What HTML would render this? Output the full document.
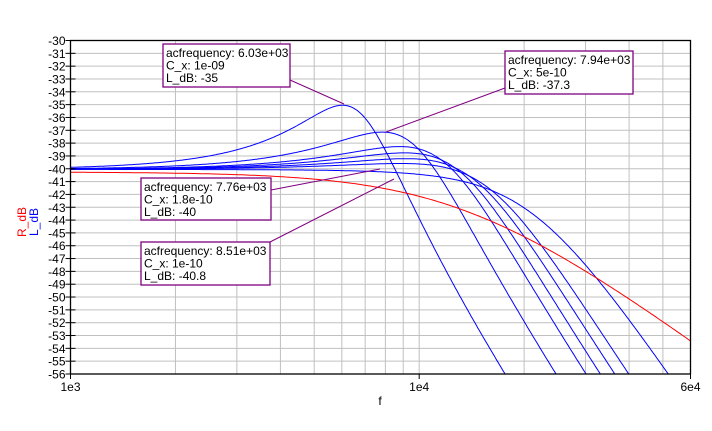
<!DOCTYPE html>
<html><head><meta charset="utf-8"><style>
html,body{margin:0;background:#fff;overflow:hidden;width:712px;height:431px}
svg{display:block;font-family:"Liberation Sans",sans-serif}
</style></head><body>
<svg id="s" width="712" height="431" xmlns="http://www.w3.org/2000/svg"></svg>
<script>
const L=70.5,R=690.5,T=40.5,B=374,dpx=(B-T)/26,dec=(R-L)/Math.log10(60);
const X=f=>L+dec*Math.log10(f/1000), Y=d=>T+(-30-d)*dpx;
let s='';
for(let k=1;k<26;k++){const y=T+k*dpx;s+=`<line x1="${L}" x2="${R}" y1="${y}" y2="${y}" stroke="#c0c0c0"/>`;}
[2,3,4,5,6,7,8,9,10,20,30,40,50].forEach(m=>{const x=X(m*1000);s+=`<line x1="${x}" x2="${x}" y1="${T}" y2="${B}" stroke="#c0c0c0"/>`;});
s+=`<defs><clipPath id="c"><rect x="${L}" y="${T}" width="${R-L}" height="${B-T}"/></clipPath></defs><g clip-path="url(#c)" fill="none">`;
const Cs=[1e-9,5e-10,3.3e-10,2.7e-10,2.2e-10,1.8e-10,1e-10];
Cs.forEach(C=>{const f0=6630*Math.sqrt(1e-9/C),Q=1.7*Math.pow(C/1e-9,0.4);let p='';
for(let i=0;i<=700;i++){const f=1000*Math.pow(60,i/700),r=f/f0;const m=Math.hypot(1-r*r,r/Q);const d=-40.05-20*Math.log10(m);p+=(i?'L':'M')+X(f).toFixed(1)+' '+Y(d).toFixed(1);}
s+=`<path d="${p}" stroke="#0000ff" stroke-width="1"/>`;});
let p='';for(let i=0;i<=300;i++){const f=1000*Math.pow(60,i/300);const d=-40.25-10*Math.log10(1+(f/13500)**2);p+=(i?'L':'M')+X(f).toFixed(1)+' '+Y(d).toFixed(1);}
s+=`<path d="${p}" stroke="#ff0000"/></g>`;
s+=`<rect x="${L}" y="${T}" width="${R-L}" height="${B-T}" fill="none" stroke="#000" stroke-width="1.3"/>`;
for(let k=0;k<=26;k++){const y=T+k*dpx;s+=`<line x1="${L-5}" x2="${L+5}" y1="${y}" y2="${y}" stroke="#000"/><text x="${L-5}" y="${y+4.5}" font-size="12" text-anchor="end">${-30-k}</text>`;}
[[1000,'1e3'],[10000,'1e4'],[60000,'6e4']].forEach(([f,t])=>{const x=X(f);s+=`<line x1="${x}" x2="${x}" y1="${B}" y2="${B+5}" stroke="#000"/><text x="${x}" y="${B+17}" font-size="12" text-anchor="middle">${t}</text>`;});
s+=`<text x="380" y="405" font-size="12" text-anchor="middle">f</text>`;
s+=`<text transform="translate(26,222) rotate(-90)" font-size="12" text-anchor="middle"><tspan fill="#ff0000">R_dB</tspan></text><text transform="translate(38,222) rotate(-90)" font-size="12" text-anchor="middle" fill="#0000ff">L_dB</text>`;
const ann=[[163,44,127,43,['acfrequency: 6.03e+03','C_x: 1e-09','L_dB: -35'],[290,80,344,104]],
[505,51,128,43,['acfrequency: 7.94e+03','C_x: 5e-10','L_dB: -37.3'],[505,88,386,132]],
[141,178,130,42,['acfrequency: 7.76e+03','C_x: 1.8e-10','L_dB: -40'],[271,190,380,169]],
[141,242,129,43,['acfrequency: 8.51e+03','C_x: 1e-10','L_dB: -40.8'],[270,242,394,179]]];
ann.forEach(([x,y,w,h,t,l])=>{s+=`<line x1="${l[0]}" y1="${l[1]}" x2="${l[2]}" y2="${l[3]}" stroke="#800080"/><rect x="${x}" y="${y}" width="${w}" height="${h}" fill="#fff" stroke="#800080" stroke-width="1.3"/>`;
t.forEach((q,i)=>{s+=`<text x="${x+3}" y="${y+13+i*12.5}" font-size="12">${q}</text>`;});});
document.getElementById('s').innerHTML=s;
</script>
</body></html>
